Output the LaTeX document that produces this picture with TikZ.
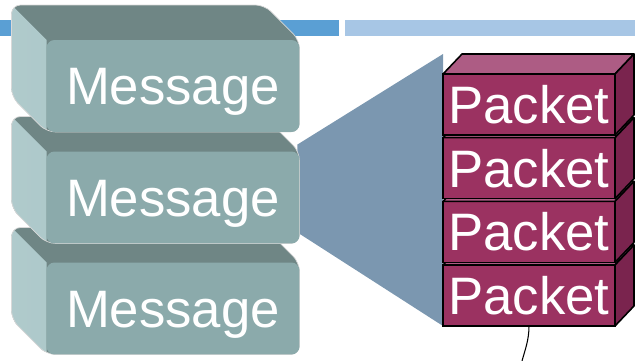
\documentclass[tikz,border=0pt]{standalone}
\usepackage{fontspec}
\setmainfont{Liberation Sans}
\usetikzlibrary{positioning, backgrounds}
\definecolor {barblue}{HTML}{5A9FD4}
\definecolor {barlight}{HTML}{A7C6E5}
\definecolor {msgfront}{HTML}{8BAAAB}
\definecolor {msgtop}{HTML}{6F8685}
\definecolor {msgside}{HTML}{9CBDBF}
\definecolor {zoomblue}{HTML}{7B97B0}
\definecolor {pktfront}{HTML}{9B3261}
\definecolor {pkttop}{HTML}{AD5C84}
\definecolor {pktside}{HTML}{7A244E}

\begin{document}
\begin{tikzpicture}[x = 0.02cm, y = -0.02cm, semithick,
               msg/.style ={rectangle, rounded corners = 0.16cm, fill = msgfront, text = white,
               font = \fontsize{30}{36}\selectfont, minimum width = 5.06cm, minimum height = 1.84cm,
               text height = 21.5pt, text depth = 0pt, inner sep = 0pt, outer sep = 0pt},
               pkt/.style ={rectangle, draw = black, line width = 0.9pt, fill = pktfront, text = white,
               font = \fontsize{30}{36}\selectfont, minimum width = 3.44cm, minimum height = 1.22cm,
               text height = 21.5pt, text depth = 0pt, inner sep = 0pt, outer sep = 0pt},
               msgback/.style ={shift = {(-35,-35)}},
               pktback/.style ={shift = {(19,-20)}},
               hull/.style ={fill = msgtop, draw = black!15, line width = 0.4pt, rounded corners = 0.18cm},
               pktface/.style ={draw = black, line width = 0.9pt, line join = round}]

           \useasboundingbox (0,0) rectangle (635,361);

           % mensajes (cara frontal)
           \node[msg] (m3) at (173, 308.5) {Message};
           \node[msg] (m2) at (173, 197.5) {Message};
           \node[msg] (m1) at (173, 86) {Message};

           % paquetes, de abajo hacia arriba
           \node[pkt] (p4) at (529, 295.5) {Packet};
           \draw[pktface, fill = pkttop] (p4.north west) -- ([pktback]p4.north west) -- ([pktback]p4.north east) -- (p4.north east) -- cycle;
           \draw[pktface, fill = pktside] (p4.north east) -- ([pktback]p4.north east) -- ([pktback]p4.south east) -- (p4.south east) -- cycle;

           \node[pkt] (p3) at (529, 231.9) {Packet};
           \draw[pktface, fill = pkttop] (p3.north west) -- ([pktback]p3.north west) -- ([pktback]p3.north east) -- (p3.north east) -- cycle;
           \draw[pktface, fill = pktside] (p3.north east) -- ([pktback]p3.north east) -- ([pktback]p3.south east) -- (p3.south east) -- cycle;

           \node[pkt] (p2) at (529, 168.2) {Packet};
           \draw[pktface, fill = pkttop] (p2.north west) -- ([pktback]p2.north west) -- ([pktback]p2.north east) -- (p2.north east) -- cycle;
           \draw[pktface, fill = pktside] (p2.north east) -- ([pktback]p2.north east) -- ([pktback]p2.south east) -- (p2.south east) -- cycle;

           \node[pkt] (p1) at (529, 104.5) {Packet};
           \draw[pktface, fill = pkttop] (p1.north west) -- ([pktback]p1.north west) -- ([pktback]p1.north east) -- (p1.north east) -- cycle;
           \draw[pktface, fill = pktside] (p1.north east) -- ([pktback]p1.north east) -- ([pktback]p1.south east) -- (p1.south east) -- cycle;

           \coordinate (cable) at (522, 361);
           \draw[line width = 0.6pt] (p4.south) .. controls (529, 340) and (525, 350) .. (cable);

           \begin{pgfonlayer}{background}
           % barra superior
           \fill[barblue] (0,20) rectangle (339,36);
           \fill[barlight] (345,20) rectangle (635,36);

           % zoom
           \fill[zoomblue] ([shift = {(-2,-7)}]m2.north east) -- ([shift = {(0,-20)}]p1.north west) -- (p4.south west) -- ([shift = {(-2,-11)}]m2.south east) -- cycle;

           % mensajes (caras superior e izquierda)
           \path[hull, path picture = {\fill[sharp corners, left color = msgside!80!white, right color = msgside] ([msgback]m3.north west) -- (m3.north west) -- (m3.south west) -- ([msgback]m3.south west) -- cycle;}]
               ([msgback]m3.north west) -- ([msgback]m3.north east) -- (m3.north east) -- (m3.south east) -- (m3.south west) -- ([msgback]m3.south west) -- cycle;
           \path[hull, path picture = {\fill[sharp corners, left color = msgside!80!white, right color = msgside] ([msgback]m2.north west) -- (m2.north west) -- (m2.south west) -- ([msgback]m2.south west) -- cycle;}]
               ([msgback]m2.north west) -- ([msgback]m2.north east) -- (m2.north east) -- (m2.south east) -- (m2.south west) -- ([msgback]m2.south west) -- cycle;
           \path[hull, path picture = {\fill[sharp corners, left color = msgside!80!white, right color = msgside] ([msgback]m1.north west) -- (m1.north west) -- (m1.south west) -- ([msgback]m1.south west) -- cycle;}]
               ([msgback]m1.north west) -- ([msgback]m1.north east) -- (m1.north east) -- (m1.south east) -- (m1.south west) -- ([msgback]m1.south west) -- cycle;
           \end{pgfonlayer}

       \end{tikzpicture}
\end{document}
